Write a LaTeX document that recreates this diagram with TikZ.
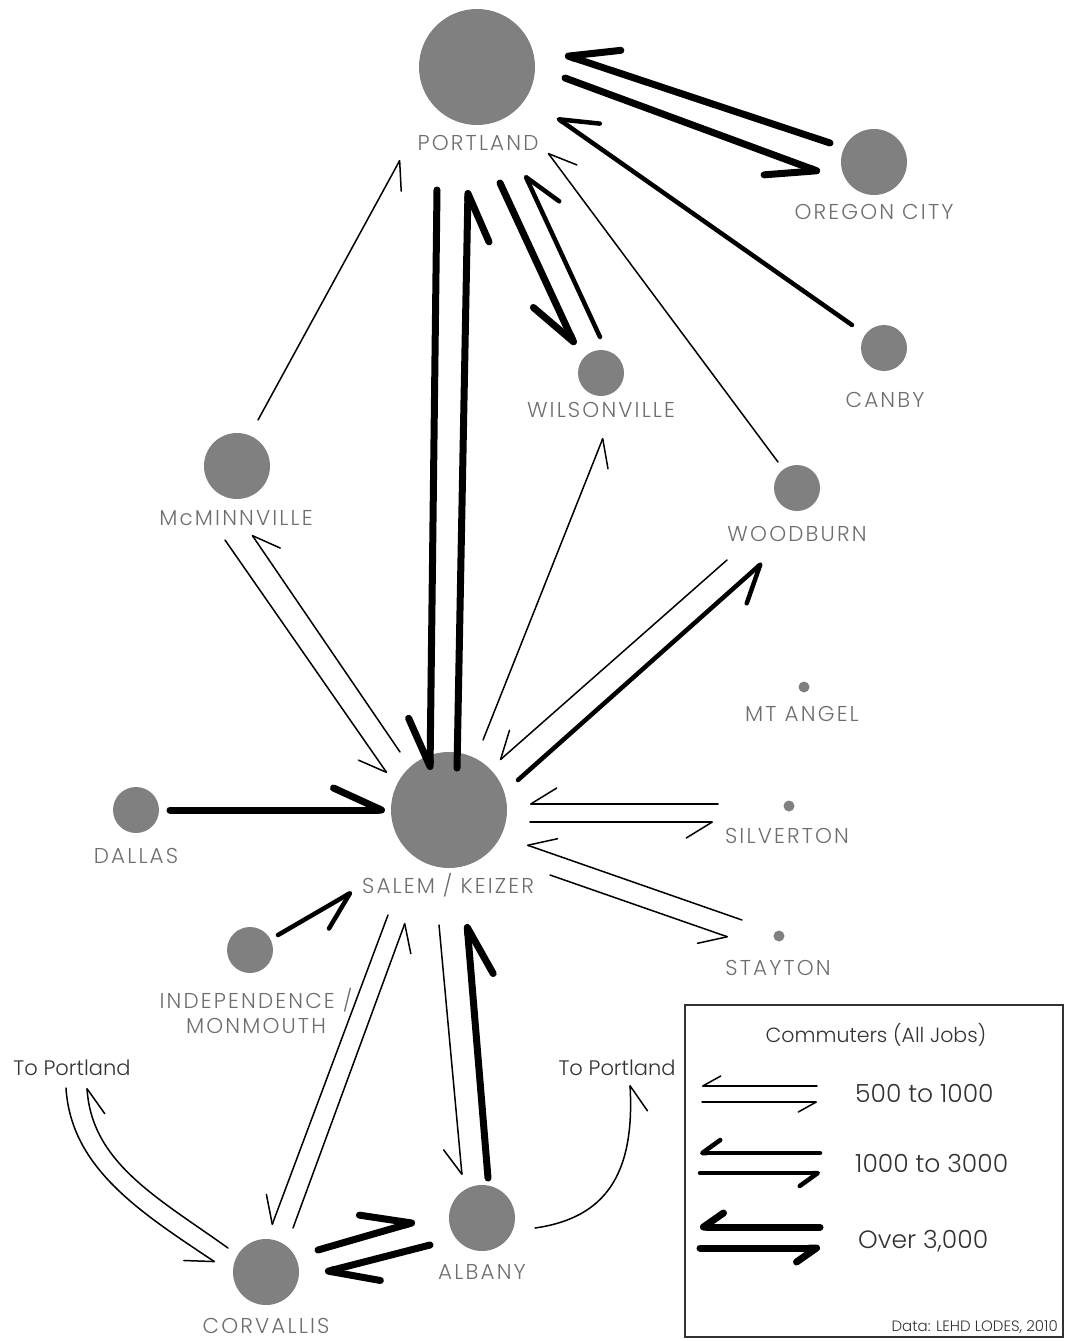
\documentclass[tikz,border=0pt]{standalone}
\usepackage{fontspec}
\setmainfont{Poppins}[UprightFont={* Light}]
\usetikzlibrary{arrows.meta,calc}

\definecolor{citygray}{RGB}{128,128,128}
\definecolor{labelgray}{RGB}{110,110,110}
\definecolor{keygray}{RGB}{50,50,50}

\tikzset{
  city/.style={circle, fill=citygray, inner sep=0pt},
  lbl/.style={text=labelgray, font=\fontsize{21.5}{25}\selectfont\addfontfeature{LetterSpace=10}, inner sep=0pt},
  keytext/.style={text=keygray, inner sep=0pt},
  thinflow/.style={line width=1.5pt, line cap=round, -{Straight Barb[right, round, length=26pt, width=32pt]}},
  midflow/.style={line width=4.5pt, line cap=round, -{Straight Barb[right, round, length=36pt, width=40pt]}},
  bigflow/.style={line width=7pt, line cap=round, -{Straight Barb[right, round, length=48pt, width=44pt]}},
  bigflowL/.style={line width=7pt, line cap=round, -{Straight Barb[left, round, length=48pt, width=44pt]}},
  keythin/.style={line width=1.5pt, line cap=round, -{Straight Barb[right, round, length=18pt, width=20pt]}},
  keymid/.style={line width=4.5pt, line cap=round, -{Straight Barb[right, round, length=18pt, width=26pt]}},
  keybig/.style={line width=7pt, line cap=round, -{Straight Barb[right, round, length=20pt, width=28pt]}},
}

\begin{document}
\begin{tikzpicture}[x=1pt,y=-1pt]
  \useasboundingbox (0,0) rectangle (1065,1341);

  % Cities
  \node[city, minimum size=116pt] (portland) at (477,67) {};
  \node[city, minimum size=66pt] (oregon) at (874,162) {};
  \node[city, minimum size=46pt] (canby) at (884,348) {};
  \node[city, minimum size=46pt] (wilson) at (601,373) {};
  \node[city, minimum size=66pt] (mcminn) at (237,466) {};
  \node[city, minimum size=46pt] (woodburn) at (797,488) {};
  \node[city, minimum size=11pt] (mtangel) at (804,687) {};
  \node[city, minimum size=116pt] (salem) at (449,810) {};
  \node[city, minimum size=11pt] (silverton) at (789,806) {};
  \node[city, minimum size=11pt] (stayton) at (779,936) {};
  \node[city, minimum size=46pt] (dallas) at (136,810) {};
  \node[city, minimum size=46pt] (indep) at (250,950) {};
  \node[city, minimum size=66pt] (albany) at (482,1218) {};
  \node[city, minimum size=66pt] (corvallis) at (266,1272) {};

  % Labels
  \node[lbl] (portland-l) at (478,143) {PORTLAND};
  \node[lbl] (oregon-l) at (874,212) {OREGON CITY};
  \node[lbl] (canby-l) at (885,400) {CANBY};
  \node[lbl] (wilson-l) at (601,410) {WILSONVILLE};
  \node[lbl] (mcminn-l) at (236,518) {McMINNVILLE};
  \node[lbl] (woodburn-l) at (797,534) {WOODBURN};
  \node[lbl] (mtangel-l) at (802,714) {MT ANGEL};
  \node[lbl] (silverton-l) at (787,836) {SILVERTON};
  \node[lbl] (stayton-l) at (778,968) {STAYTON};
  \node[lbl] (dallas-l) at (136,856) {DALLAS};
  \node[lbl] (salem-l) at (448,885) {SALEM / KEIZER};
  \node[lbl, align=center] (indep-l) at (256,1011) {INDEPENDENCE /\\MONMOUTH};
  \node[lbl] (albany-l) at (482,1272) {ALBANY};
  \node[lbl] (corvallis-l) at (266,1326) {CORVALLIS};
  \node[keytext, font=\fontsize{21}{25}\selectfont] (tpl) at (72,1068) {To Portland};
  \node[keytext, font=\fontsize{21}{25}\selectfont] (tpr) at (617,1068) {To Portland};

  % Flows around Portland
  \draw[bigflow] ($(oregon)+(-44,-19)$) -- ($(portland)+(88,-12)$);
  \draw[bigflow] ($(portland)+(88,11)$) -- ($(oregon)+(-54,10)$);
  \draw[midflow] ($(canby)+(-32,-23)$) -- ($(portland)+(80,51)$);
  \draw[thinflow] ($(woodburn)+(-19,-26)$) -- ($(portland)+(71,86)$);
  \draw[thinflow] ($(mcminn)+(21,-46)$) -- ($(portland)+(-77,93)$);
  \draw[bigflow] ($(portland)+(-40,123)$) -- ($(salem)+(-19,-40)$);
  \draw[bigflow] ($(salem)+(8,-42)$) -- ($(portland)+(-9,123)$);
  \draw[bigflow] ($(portland)+(23,116)$) -- ($(wilson)+(-26,-28)$);
  \draw[midflow] ($(wilson)+(-1,-36)$) -- ($(portland)+(48,108)$);

  % Flows around Salem
  \draw[thinflow] ($(mcminn)+(-12,74)$) -- ($(salem)+(-62,-37)$);
  \draw[thinflow] ($(salem)+(-49,-58)$) -- ($(mcminn)+(15,69)$);
  \draw[thinflow] ($(woodburn)+(-70,72)$) -- ($(salem)+(51,-50)$);
  \draw[midflow] ($(salem)+(69,-30)$) -- ($(woodburn)+(-35,75)$);
  \draw[thinflow] ($(salem)+(34,-70)$) -- ($(wilson)+(2,65)$);
  \draw[bigflowL] ($(dallas)+(34,0)$) -- ($(salem)+(-64,0)$);
  \draw[midflow] ($(indep)+(28,-15)$) -- ($(salem)+(-97,82)$);
  \draw[thinflow] ($(silverton)+(-71,-2)$) -- ($(salem)+(81,-6)$);
  \draw[thinflow] ($(salem)+(81,12)$) -- ($(silverton)+(-76,16)$);
  \draw[thinflow] ($(stayton)+(-37,-16)$) -- ($(salem)+(78,35)$);
  \draw[thinflow] ($(salem)+(101,65)$) -- ($(stayton)+(-51,1)$);
  \draw[thinflow] ($(salem)+(-61,105)$) -- ($(corvallis)+(6,-47)$);
  \draw[thinflow] ($(corvallis)+(27,-44)$) -- ($(salem)+(-44,113)$);
  \draw[thinflow] ($(salem)+(-10,115)$) -- ($(albany)+(-20,-43)$);
  \draw[bigflow] ($(albany)+(6,-40)$) -- ($(salem)+(18,114)$);

  % Corvallis and Albany
  \draw[bigflowL] ($(corvallis)+(52,-22)$) -- ($(albany)+(-67,4)$);
  \draw[bigflowL] ($(albany)+(-52,27)$) -- ($(corvallis)+(59,0)$);
  \draw[thinflow] ($(corvallis)+(-38,-24)$) .. controls +(-70,-50) and +(5,75) .. ($(tpl)+(15,20)$);
  \draw[thinflow] ($(tpl)+(-6,20)$) .. controls +(5,80) and +(-75,-50) .. ($(corvallis)+(-51,-10)$);
  \draw[thinflow] ($(albany)+(53,10)$) .. controls +(70,-10) and +(5,90) .. ($(tpr)+(13,17)$);

  % Legend
  \draw[keygray, line width=1.5pt] (685,1005) rectangle (1063,1337);
  \node[keytext, font=\fontsize{20.5}{24}\selectfont] (key-title) at (876,1035) {Commuters (All Jobs)};
  \node[keytext, anchor=west, font=\fontsize{25}{30}\selectfont] (key-thin) at (855,1093) {500 to 1000};
  \node[keytext, anchor=west, font=\fontsize{25}{30}\selectfont] (key-mid) at (855,1163) {1000 to 3000};
  \node[keytext, anchor=west, font=\fontsize{25}{30}\selectfont] (key-big) at (858,1241) {Over 3,000};
  \node[keytext, anchor=east, font=\fontsize{15}{18}\selectfont] (key-src) at (1058,1327) {Data: LEHD LODES, 2010};
  \draw[keythin] ($(key-thin.west)+(-38,-7)$) -- ($(key-thin.west)+(-153,-7)$);
  \draw[keythin] ($(key-thin.west)+(-153,9)$) -- ($(key-thin.west)+(-38,9)$);
  \draw[keymid] ($(key-mid.west)+(-35,-10)$) -- ($(key-mid.west)+(-155,-10)$);
  \draw[keymid] ($(key-mid.west)+(-155,10)$) -- ($(key-mid.west)+(-35,10)$);
  \draw[keybig] ($(key-big.west)+(-38,-14)$) -- ($(key-big.west)+(-158,-14)$);
  \draw[keybig] ($(key-big.west)+(-158,7)$) -- ($(key-big.west)+(-38,7)$);
\end{tikzpicture}
\end{document}
